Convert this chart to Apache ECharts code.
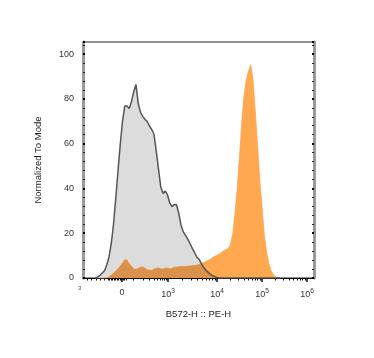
<!DOCTYPE html>
<html>
<head>
<meta charset="utf-8">
<script src="https://cdn.jsdelivr.net/npm/echarts@6/dist/echarts.min.js"></script>
<style>
html,body{margin:0;padding:0;background:#fff;}
#chart{width:374px;height:358px;}
</style>
</head>
<body>
<div id="chart"></div>
<script>
// Histogram bins on the display (biexponential) scale
const binStart = 1.30;
const binStep = 0.05;

// Isotype / unstained control (gray)
const grayCounts = [
  0, 0.5, 1.2, 2.2, 3.2, 5.8, 9.4, 15.3, 23.9, 35.6,
  47.8, 59.7, 70.0, 76.8, 76.8, 75.7, 78.8, 83.2, 86.4, 77.8,
  74.0, 72.2, 70.8, 69.9, 67.9, 66.3, 64.2, 56.7, 48.6, 40.7,
  37.8, 38.8, 37.1, 33.5, 31.9, 32.8, 32.7, 28.9, 23.7, 20.6,
  19.1, 17.4, 15.4, 13.3, 11.4, 9.4, 8.4, 6.5, 4.8, 3.6,
  2.6, 1.7, 1.0, 0.6, 0.2,
  0, 0, 0, 0, 0, 0, 0, 0, 0, 0,
  0, 0, 0, 0, 0, 0, 0, 0, 0, 0,
  0, 0, 0, 0, 0, 0, 0, 0
];

// Stained sample (orange)
const orangeCounts = [
  0, 0, 0, 0, 0, 0.1, 0.5, 1.3, 2.1, 3.1,
  4.1, 5.4, 6.7, 8.2, 8.0, 6.4, 5.2, 4.1, 3.8, 4.3,
  4.9, 4.9, 4.4, 3.7, 3.5, 3.4, 4.0, 4.4, 4.6, 4.1,
  4.0, 4.4, 4.5, 4.0, 4.3, 4.7, 4.9, 5.0, 5.1, 5.1,
  5.2, 5.3, 5.4, 5.5, 5.6, 5.8, 6.0, 6.4, 6.9, 7.4,
  7.8, 8.3, 9.1, 9.7, 10.2,
  10.7, 11.4, 12.2, 12.7, 13.2, 15.0, 19.8, 28.8, 40.3, 54.0,
  69.3, 81.4, 88.3, 92.5, 95.2, 88.5, 74.6, 59.6, 43.7, 31.6,
  19.6, 11.7, 6.6, 3.3, 1.6, 0.5, 0.1, 0
];

// Axis tick labels and where they sit on the display scale
const xTickLabels = ['0', '10^3', '10^4', '10^5', '10^6'];
const xTickDisplay = [1.889, 2.911, 4, 5, 6];
const yTickLabels = ['0', '20', '40', '60', '80', '100'];

// decade anchors on display scale (for minor ticks)
const decadeDisplay = [2.133, 2.911, 4, 5, 6];

const bins = grayCounts.map((_, i) => +(binStart + i * binStep).toFixed(3));
const grayData = bins.map((d, i) => [d, grayCounts[i]]);
const orangeData = bins.map((d, i) => [d, orangeCounts[i]]);
const overlapData = bins.map((d, i) => [d, Math.min(grayCounts[i], orangeCounts[i])]);

// minor ticks
const minorTicks = [];
[1.111, 1.211, 1.311, 1.4, 1.489].forEach(v => minorTicks.push(v));
for (let i = 0; i <= 12; i++) minorTicks.push(1.578 + i * 0.0333);
for (let n = 0; n < decadeDisplay.length - 1; n++) {
  const a = decadeDisplay[n], b = decadeDisplay[n + 1];
  for (let k = 1; k <= 9; k++) {
    if (n > 0 && k === 1) continue;
    minorTicks.push(a + (b - a) * Math.log10(k));
  }
}

const xMin = (83 - 37) / 45;
const xMax = (314 - 37) / 45;

function fmtX(val) {
  let best = 0, bd = 1e9;
  xTickDisplay.forEach((t, i) => { const dd = Math.abs(t - val); if (dd < bd) { bd = dd; best = i; } });
  const s = xTickLabels[best];
  if (s.indexOf('^') >= 0) {
    const p = s.split('^');
    return p[0] + '{s|' + p[1] + '}';
  }
  return s;
}

const font = 'Liberation Sans, Arial, sans-serif';
const chart = echarts.init(document.getElementById('chart'), null, {renderer: 'canvas'});
chart.setOption({
  animation: false,
  backgroundColor: '#fff',
  textStyle: {fontFamily: font},
  grid: {left: 83, right: 60, top: 42, bottom: 80, show: true, borderColor: '#222', borderWidth: 1, backgroundColor: 'transparent'},
  xAxis: [{
    type: 'value', min: xMin, max: xMax,
    name: 'B572-H :: PE-H', nameLocation: 'middle', nameGap: 31,
    nameTextStyle: {fontSize: 9.5, color: '#222', fontFamily: font},
    axisLine: {show: true, lineStyle: {color: '#111', width: 1}},
    axisTick: {show: true, customValues: xTickDisplay, length: 4, lineStyle: {color: '#111', width: 1.5}},
    axisLabel: {
      show: true, customValues: xTickDisplay, margin: 10, fontSize: 9, color: '#333',
      formatter: fmtX,
      rich: {s: {fontSize: 6.5, color: '#333', verticalAlign: 'top', padding: [0, 0, 6, 0]}}
    },
    splitLine: {show: false}
  }, {
    type: 'value', min: xMin, max: xMax, position: 'bottom',
    axisLine: {show: false},
    axisTick: {show: true, customValues: minorTicks, length: 2.5, lineStyle: {color: '#111', width: 1}},
    axisLabel: {show: false},
    splitLine: {show: false}
  }],
  yAxis: [{
    type: 'value', min: 0, max: 105.4, interval: 20,
    name: 'Normalized To Mode', nameLocation: 'middle', nameGap: 40, nameRotate: 90,
    nameTextStyle: {fontSize: 9.5, color: '#222', fontFamily: font},
    axisLine: {show: true, lineStyle: {color: '#999', width: 3}},
    axisTick: {show: true, inside: true, length: 2, lineStyle: {color: '#000', width: 2}},
    minorTick: {show: true, splitNumber: 5, length: 2, lineStyle: {color: '#222', width: 1}},
    axisLabel: {show: true, margin: 9, fontSize: 9, color: '#333', showMaxLabel: false,
      formatter: v => yTickLabels[Math.round(v / 20)] ?? ''},
    splitLine: {show: false}
  }, {
    type: 'value', min: 0, max: 105.4, interval: 20, position: 'right',
    axisLine: {show: true, lineStyle: {color: '#999', width: 3}},
    axisTick: {show: true, inside: true, length: 2, lineStyle: {color: '#000', width: 2}},
    minorTick: {show: true, splitNumber: 5, length: 2, lineStyle: {color: '#222', width: 1}},
    axisLabel: {show: false},
    splitLine: {show: false}
  }],
  graphic: [{type: 'text', left: 78, top: 285, silent: true,
    style: {text: '3', font: '6px Liberation Sans', fill: '#555'}}],
  series: [
    {type: 'line', data: grayData, symbol: 'none', z: 2,
      lineStyle: {width: 0}, areaStyle: {color: '#DCDCDC', opacity: 1}},
    {type: 'line', data: orangeData, symbol: 'none', z: 3,
      lineStyle: {width: 0.8, color: '#FFA44C'}, areaStyle: {color: '#FFA84F', opacity: 1}},
    {type: 'line', data: overlapData, symbol: 'none', z: 4,
      lineStyle: {width: 0}, areaStyle: {color: '#D9914C', opacity: 1}},
    {type: 'line', data: grayData, symbol: 'none', z: 5,
      lineStyle: {width: 1.5, color: '#555'}}
  ]
});
</script>
</body>
</html>
